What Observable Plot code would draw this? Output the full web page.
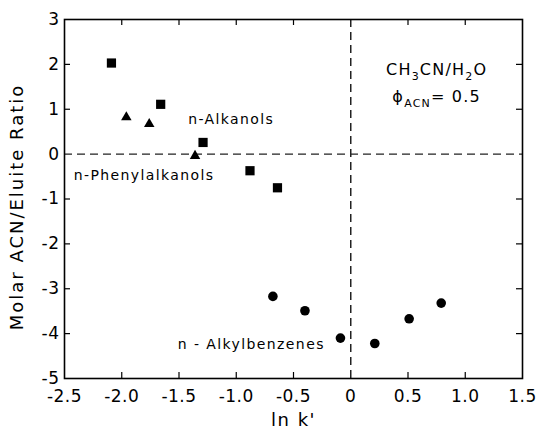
<!DOCTYPE html>
<html><head><meta charset="utf-8">
<script src="https://cdn.jsdelivr.net/npm/d3@7"></script>
<script src="https://cdn.jsdelivr.net/npm/@observablehq/plot@0.6"></script>
<style>
body{margin:0;background:#fff;}
#chart svg{font-family:"DejaVu Sans",sans-serif;}
</style>
</head><body><div id="chart"></div>
<script>
// --- data ---
const alkanolX = [-2.09, -1.66, -1.29, -0.88, -0.64];
const alkanolY = [2.03, 1.11, 0.26, -0.37, -0.75];
const phenylX = [-1.96, -1.76, -1.36];
const phenylY = [0.82, 0.67, -0.04];
const benzeneX = [-0.68, -0.40, -0.09, 0.21, 0.51, 0.79];
const benzeneY = [-3.17, -3.49, -4.10, -4.22, -3.67, -3.32];

const xTicks = [-2.5, -2, -1.5, -1, -0.5, 0, 0.5, 1, 1.5];
const xTickLabels = ["-2.5", "-2.0", "-1.5", "-1.0", "-0.5", "0", "0.5", "1.0", "1.5"];
const yTicks = [-5, -4, -3, -2, -1, 0, 1, 2, 3];
const yTickLabels = ["-5", "-4", "-3", "-2", "-1", "0", "1", "2", "3"];
const xInnerTicks = [-2, -1.5, -1, -0.5, 0.5, 1];
const yInnerTicks = [-4, -3, -2, -1, 1, 2];

const seriesLabels = [
  {text: "n-Alkanols", x: -1.42, y: 0.78},
  {text: "n-Phenylalkanols", x: -2.42, y: -0.48},
  {text: "n - Alkylbenzenes", x: -1.51, y: -4.24}
];
const conditionLines = [
  {segs: [["CH",0],["3",1],["CN/H",0],["2",1],["O",0]], x: 0.75, y: 1.88},
  {segs: [["\u03D5",0],["ACN",1],["= 0.5",0]], x: 0.75, y: 1.27}
];
const xTitle = "ln k'";
const yTitle = "Molar ACN/Eluite Ratio";

const alkanols = alkanolX.map((x, i) => ({x, y: alkanolY[i]}));
const phenyls = phenylX.map((x, i) => ({x, y: phenylY[i]}));
const benzenes = benzeneX.map((x, i) => ({x, y: benzeneY[i]}));
const condTable = conditionLines.map(c => ({...c, text: c.segs.map(s => s[0]).join("")}));

const W = 537, H = 433, mL = 64, mR = 15, mT = 19, mB = 55;
const innerH = H - mT - mB, innerW = W - mL - mR, tk = 6;

const chart = Plot.plot({
  width: W, height: H,
  marginLeft: mL, marginRight: mR, marginTop: mT, marginBottom: mB,
  x: {domain: [-2.5, 1.5]},
  y: {domain: [-5, 3]},
  marks: [
    Plot.ruleY([0], {stroke: "#222", strokeWidth: 1.2, strokeDasharray: "8,5"}),
    Plot.ruleX([0], {stroke: "#222", strokeWidth: 1.5, strokeDasharray: "8,5"}),
    Plot.tickX(xInnerTicks, {x: d => d, insetTop: innerH - tk, stroke: "black", strokeWidth: 1.2}),
    Plot.tickX(xInnerTicks, {x: d => d, insetBottom: innerH - tk, stroke: "black", strokeWidth: 1.2}),
    Plot.tickY(yInnerTicks, {y: d => d, insetRight: innerW - tk, stroke: "black", strokeWidth: 1.2}),
    Plot.tickY(yInnerTicks, {y: d => d, insetLeft: innerW - tk, stroke: "black", strokeWidth: 1.2}),
    Plot.frame({stroke: "black", strokeWidth: 1.6}),
    Plot.axisX(xTicks, {tickSize: 0, tickPadding: 11, fontSize: 17, label: null,
      tickFormat: d => xTickLabels[xTicks.indexOf(d)]}),
    Plot.axisY(yTicks, {tickSize: 0, tickPadding: 5, fontSize: 17, label: null,
      tickFormat: d => yTickLabels[yTicks.indexOf(d)]}),
    Plot.dot(alkanols, {x: "x", y: "y", symbol: "square", r: 5.2, fill: "black"}),
    Plot.dot(phenyls, {x: "x", y: "y", symbol: "triangle", r: 3.9, fill: "black"}),
    Plot.dot(benzenes, {x: "x", y: "y", symbol: "circle", r: 4.8, fill: "black"}),
    Plot.text(seriesLabels, {x: "x", y: "y", text: "text", textAnchor: "start", fontSize: 14, fill: "black"}),
    Plot.text(condTable, {x: "x", y: "y", text: "text", textAnchor: "middle", fontSize: 16, fill: "black"}),
    Plot.text([xTitle], {frameAnchor: "bottom", textAnchor: "middle", lineAnchor: "middle", dy: 42, fontSize: 18, fill: "black"}),
    Plot.text([yTitle], {frameAnchor: "left", textAnchor: "middle", lineAnchor: "middle", rotate: -90, dx: -47, dy: 8, fontSize: 18, fill: "black"})
  ]
});

const svg = d3.select(chart);
const byText = (arr) => svg.selectAll("text").filter(function() { return arr.includes(this.textContent); });
byText(xTickLabels.concat(yTickLabels)).style("letter-spacing", "0.5px");
byText(seriesLabels.map(d => d.text)).style("letter-spacing", "1.4px");
byText([xTitle]).style("letter-spacing", "1.5px");
byText([yTitle]).style("letter-spacing", "2px");
byText(condTable.map(d => d.text)).each(function() {
  const t = d3.select(this);
  const row = condTable.find(d => d.text === this.textContent);
  t.text(null).style("letter-spacing", "1.2px");
  let shifted = false;
  row.segs.forEach(([s, sub]) => {
    const ts = t.append("tspan").text(s);
    if (sub) {
      ts.attr("font-size", "11");
      if (!shifted) { ts.attr("dy", "5"); shifted = true; }
    } else if (shifted) { ts.attr("dy", "-5"); shifted = false; }
  });
});

document.getElementById("chart").appendChild(chart);
</script>
</body></html>
